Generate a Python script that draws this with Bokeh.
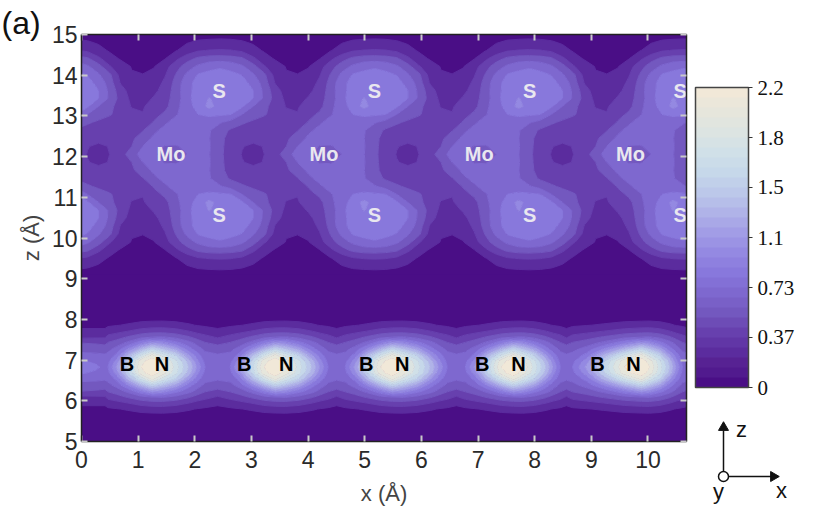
import numpy as np
from bokeh.plotting import figure
from bokeh.layouts import row
from bokeh.embed import file_html
from bokeh.resources import INLINE
from bokeh.core.properties import value
from bokeh.models import (ColumnDataSource, LinearAxis, FixedTicker, Title, CustomLabelingPolicy,
                          LinearColorMapper, ColorBar, Range1d)

# colour bands and colour bar
level_step = 2.2 / 15
levels = [level_step * k for k in range(16)]
band_colors = ["#4a0e86", "#5b2c9e", "#6740ae", "#7358bf", "#7e68cf", "#8878dc", "#9489e2", "#a29de6",
               "#b0b3e8", "#bcc8ea", "#c6d8ea", "#d0e0e8", "#dce4e2", "#e6e6dc", "#f1e8d8"]
bar_colors = ["#4a0e86", "#511a8e", "#572293", "#5b2c9e", "#6136a6", "#6740ae", "#6d4cb6", "#7358bf",
              "#7960c7", "#7e68cf", "#8370d6", "#8878dc", "#8e80df", "#9489e2", "#9b93e4", "#a29de6",
              "#a9a8e7", "#b0b3e8", "#b6bee9", "#bcc8ea", "#c1d0ea", "#c6d8ea", "#cbdce9", "#d0e0e8",
              "#d6e2e5", "#dce4e2", "#e1e5df", "#e6e6dc", "#ebe7da", "#f1e8d8"]
bar_ticks = [0, 0.3667, 0.7333, 1.1, 1.4667, 1.8333, 2.2]
bar_labels = ["0", "0.37", "0.73", "1.1", "1.5", "1.8", "2.2"]

# MoS2 layer: one period, upper half, in units of level_step; rows go from the Mo plane up to z = 15
mos2_first_x = -1.648
mos2_period = 2.73
mos2_mid_z = 12.055
mos2_row_step = 0.1963
mos2_rows = [
    [4.4, 4.1, 3.8, 3.75, 4.0, 4.4, 4.05, 3.2, 2.5, 1.95, 1.6, 2.0, 2.55, 3.6],
    [4.0, 4.4, 3.95, 3.9, 4.3, 4.6, 4.1, 3.2, 2.6, 2.05, 1.8, 2.05, 2.5, 3.0],
    [3.55, 4.2, 4.4, 4.5, 4.6, 4.6, 4.05, 3.2, 2.7, 2.4, 2.3, 2.35, 2.5, 2.8],
    [2.95, 3.8, 4.3, 4.5, 4.6, 4.6, 4.1, 3.4, 2.85, 2.55, 2.35, 2.3, 2.25, 2.4],
    [2.3, 3.1, 3.85, 4.4, 4.7, 4.8, 4.6, 4.1, 3.6, 3.15, 2.8, 2.55, 2.3, 2.2],
    [2.05, 2.65, 3.2, 3.9, 4.5, 5.0, 5.15, 5.15, 5.0, 4.0, 3.5, 3.1, 2.6, 2.2],
    [1.9, 2.45, 2.7, 3.7, 4.6, 5.35, 6.3, 5.6, 5.4, 5.15, 4.0, 3.3, 2.5, 1.95],
    [1.6, 2.1, 2.65, 3.4, 4.75, 5.4, 6.05, 5.7, 5.6, 5.4, 5.0, 3.8, 2.6, 1.75],
    [1.35, 1.75, 2.4, 3.45, 4.75, 5.3, 5.5, 5.6, 5.6, 5.4, 5.0, 3.75, 2.4, 1.55],
    [1.2, 1.45, 2.2, 3.35, 4.7, 5.3, 5.45, 5.5, 5.45, 5.3, 4.7, 3.5, 1.9, 1.3],
    [1.02, 1.2, 1.9, 3.05, 4.2, 5.05, 5.25, 5.3, 5.2, 4.95, 4.1, 3.2, 1.6, 1.06],
    [0.75, 0.95, 1.6, 2.6, 3.5, 4.2, 4.7, 4.9, 4.7, 4.15, 3.4, 2.1, 1.4, 0.95],
    [0.55, 0.7, 0.95, 1.75, 2.6, 3.2, 3.45, 3.5, 3.4, 3.15, 2.2, 1.35, 0.9, 0.65],
    [0.4, 0.5, 0.65, 0.95, 1.4, 1.9, 2.05, 2.1, 2.05, 1.8, 1.3, 0.9, 0.65, 0.45],
    [0.3, 0.35, 0.45, 0.6, 0.95, 1.15, 1.2, 1.25, 1.2, 1.1, 0.9, 0.6, 0.45, 0.35],
    [0.2, 0.22, 0.3, 0.4, 0.55, 0.65, 0.7, 0.7, 0.7, 0.65, 0.55, 0.4, 0.3, 0.22],
]

# BN layer: rows are distances from the layer's mid plane (upper half, mirrored below)
bn_mid_z = 6.828
bn_dist = [0, 0.147, 0.294, 0.442, 0.589, 0.736, 0.883, 1.031, 1.178, 1.325, 1.521, 1.816, 2.282]
bn_ovals = [(0.468, 1.246, 2.182), (2.624, 3.419, 4.355), (4.655, 5.486, 6.458),
            (6.776, 7.624, 8.454), (8.666, 9.885, 10.610)]
bn_gaps = [2.403, 4.505, 6.617, 8.560, 10.75]
bn_left_x = [-0.2, 0.0, 0.256, 0.415]
bn_left_cols = [
    [5.5, 5.1, 4.3, 3.6, 3.0, 1.8, 1.2, 0.75, 0.55, 0.5, 0.35, 0.3, 0.3],
    [5.5, 5.1, 4.3, 3.6, 3.0, 1.8, 1.2, 0.75, 0.55, 0.5, 0.35, 0.3, 0.3],
    [5.2, 4.8, 4.2, 3.6, 2.9, 1.85, 1.2, 0.75, 0.55, 0.5, 0.35, 0.3, 0.3],
    [4.75, 4.45, 4.1, 3.55, 2.75, 1.9, 1.2, 0.75, 0.55, 0.5, 0.35, 0.3, 0.3],
]
bn_gap_col = [4.65, 4.4, 4.1, 3.55, 2.75, 1.9, 1.2, 0.75, 0.55, 0.5, 0.35, 0.3, 0.3]
bn_left_frac = [1.0, 0.8, 0.55, 0.25]
bn_right_frac = [0.2, 0.45, 0.7, 0.85, 1.0]
bn_oval_cols = [
    [5.0, 4.7, 4.3, 3.7, 3.1, 2.3, 1.5, 0.85, 0.55, 0.5, 0.35, 0.3, 0.3],
    [7.2, 6.5, 5.3, 4.4, 3.5, 2.6, 1.7, 0.95, 0.6, 0.5, 0.35, 0.3, 0.3],
    [10.2, 9.7, 8.2, 6.1, 4.3, 3.1, 2.0, 1.1, 0.65, 0.5, 0.35, 0.3, 0.3],
    [14.0, 13.6, 11.2, 8.4, 5.8, 3.7, 2.4, 1.4, 0.7, 0.5, 0.35, 0.3, 0.3],
    [14.95, 14.6, 13.3, 10.0, 7.0, 4.0, 2.6, 1.5, 0.75, 0.5, 0.35, 0.3, 0.3],
    [14.0, 13.5, 11.6, 9.0, 6.5, 4.1, 2.6, 1.55, 0.75, 0.5, 0.35, 0.3, 0.3],
    [11.5, 11.2, 9.8, 7.6, 5.4, 3.7, 2.4, 1.4, 0.7, 0.5, 0.35, 0.3, 0.3],
    [8.8, 8.4, 7.0, 5.4, 4.4, 3.1, 2.0, 1.1, 0.65, 0.5, 0.35, 0.3, 0.3],
    [6.8, 6.3, 5.5, 4.5, 3.7, 2.6, 1.7, 0.95, 0.6, 0.5, 0.35, 0.3, 0.3],
    [5.0, 4.7, 4.3, 3.8, 3.1, 2.3, 1.5, 0.85, 0.55, 0.5, 0.35, 0.3, 0.3],
]

# atom labels
s_x = [2.43, 5.17, 7.91, 10.57]
s_top_z = 13.60
s_low_z = 10.56
mo_x = [1.58, 4.28, 7.02, 9.69]
mo_z = 12.06
b_x = [0.804, 2.871, 5.027, 7.076, 9.108]
n_x = [1.422, 3.613, 5.663, 7.712, 9.744]
bn_label_z = 6.90

x_ticks = list(range(0, 11))
z_ticks = list(range(5, 16))

SANS = "Liberation Sans"
SERIF = "Liberation Serif"

p = figure(frame_width=605, frame_height=407, x_range=Range1d(0, 10.68), y_range=Range1d(5, 15),
           output_backend="svg", toolbar_location=None, min_border_left=81, min_border_top=34,
           min_border_bottom=59, min_border_right=4, background_fill_color="#4a0e86",
           border_fill_color="white", outline_line_color=None)
p.grid.visible = False

# MoS2 field
mos2 = np.array(mos2_rows) * level_step
tiled = np.hstack([mos2] * 5 + [mos2[:, :1]])
mos2_full = np.vstack([tiled[:0:-1], tiled])
n_half = len(mos2_rows)
mos2_z = mos2_mid_z + mos2_row_step * np.arange(-(n_half - 1), n_half)
mos2_x = mos2_first_x + mos2_period / 14 * np.arange(tiled.shape[1])
line_colors = band_colors + band_colors[-1:]
p.contour(mos2_x, mos2_z, mos2_full, levels, fill_color=band_colors, line_color=line_colors, line_width=1)

# BN field
bn_x = list(bn_left_x)
bn_cols = [list(c) for c in bn_left_cols]
for (start, hot, end), gap in zip(bn_ovals, bn_gaps):
    xs = [hot - (hot - start) * f for f in bn_left_frac] + [hot] + [hot + (end - hot) * f for f in bn_right_frac]
    bn_x += xs + [gap]
    bn_cols += [list(c) for c in bn_oval_cols] + [list(bn_gap_col)]
half = np.array(bn_cols).T * level_step
bn_full = np.vstack([half[:0:-1], half])
bn_d = np.array(bn_dist)
bn_z = np.concatenate([bn_mid_z - bn_d[:0:-1], bn_mid_z + bn_d])
p.contour(np.array(bn_x), bn_z, bn_full, levels, fill_color=band_colors, line_color=line_colors, line_width=1)

# atom labels
def atoms(xs, zs, text, color):
    src = ColumnDataSource(dict(x=xs, y=zs, t=[text] * len(xs)))
    p.text("x", "y", "t", source=src, text_color=color, text_font=value(SANS), text_font_style="bold",
           text_font_size="20px", text_align="center", text_baseline="middle")

atoms(s_x, [s_top_z] * len(s_x), "S", "#e9e7ef")
atoms(s_x, [s_low_z] * len(s_x), "S", "#e9e7ef")
atoms(mo_x, [mo_z] * len(mo_x), "Mo", "#e9e7ef")
atoms(b_x, [bn_label_z] * len(b_x), "B", "#000000")
atoms(n_x, [bn_label_z] * len(n_x), "N", "#000000")

# axes
TICK = "#c9c9c9"
def style(ax, ticks):
    ax.ticker = FixedTicker(ticks=ticks)
    ax.axis_line_color = "#222222"
    ax.axis_line_width = 1.5
    ax.major_tick_in = 6
    ax.major_tick_out = 0
    ax.major_tick_line_color = TICK
    ax.major_tick_line_width = 2
    ax.minor_tick_line_color = None

xa = p.xaxis[0]
ya = p.yaxis[0]
style(xa, x_ticks)
style(ya, z_ticks)
for ax, lab in ((xa, "x (Å)"), (ya, "z (Å)")):
    ax.axis_label = lab
    ax.axis_label_text_font = SANS
    ax.axis_label_text_font_size = "22px"
    ax.axis_label_text_font_style = "normal"
    ax.axis_label_text_color = "#444444"
    ax.major_label_text_font = SANS
    ax.major_label_text_font_size = "23px"
    ax.major_label_text_color = "#2a2a2a"
xa.major_label_standoff = 9
xa.axis_label_standoff = 10
ya.major_label_standoff = 4
ya.axis_label_standoff = 5
ya.major_label_orientation = "horizontal"

top = LinearAxis(major_label_text_font_size="1px", major_label_standoff=0,
                 major_label_policy=CustomLabelingPolicy(code="return;"))
right = LinearAxis(major_label_text_font_size="1px", major_label_standoff=0,
                   major_label_policy=CustomLabelingPolicy(code="return;"))
style(top, x_ticks)
style(right, z_ticks)
p.add_layout(top, "above")
p.add_layout(right, "right")

# panel tag
p.add_layout(Title(text="(a)", align="left", offset=-80, standoff=-20, text_font=SANS,
                   text_font_size="32px", text_font_style="normal", text_color="#111111"), "above")

# right-hand panel: colour bar and coordinate triad (its frame starts level with the main frame's top)
side = figure(frame_width=130, frame_height=471, x_range=Range1d(690, 820), y_range=Range1d(505, 34),
              output_backend="svg", toolbar_location=None, min_border=0, min_border_top=34,
              outline_line_color=None)
side.axis.visible = False
side.grid.visible = False

mapper = LinearColorMapper(palette=bar_colors, low=0, high=2.2)
cb = ColorBar(color_mapper=mapper, width=53, height=300, location=(5, 118), padding=0,
              ticker=FixedTicker(ticks=bar_ticks),
              major_label_overrides={t: l for t, l in zip(bar_ticks, bar_labels)},
              major_label_text_font=SERIF, major_label_text_font_size="21px", major_label_text_color="#111111",
              major_tick_in=0, major_tick_out=4, major_tick_line_color="#333333", major_tick_line_width=1,
              bar_line_color="#444444", bar_line_width=1.5, label_standoff=5, background_fill_color=None,
              border_line_color=None)
side.add_layout(cb, "center")

side.segment([723, 723], [476, 476], [723, 772], [430, 476], line_color="#111111", line_width=1.5)
side.scatter([723], [427], marker="triangle", size=10, color="#111111")
side.scatter([773], [476], marker="triangle", size=10, color="#111111", angle=-np.pi / 2)
side.scatter([723], [476], marker="circle", size=10, fill_color="white", line_color="#111111", line_width=1.5)
side.text([741, 781, 718], [429, 490, 491], ["z", "x", "y"], text_font=value(SANS), text_font_size="22px",
          text_color="#111111", text_align="center", text_baseline="middle")

open("out.html", "w").write(file_html(row(p, side, spacing=0), INLINE))
